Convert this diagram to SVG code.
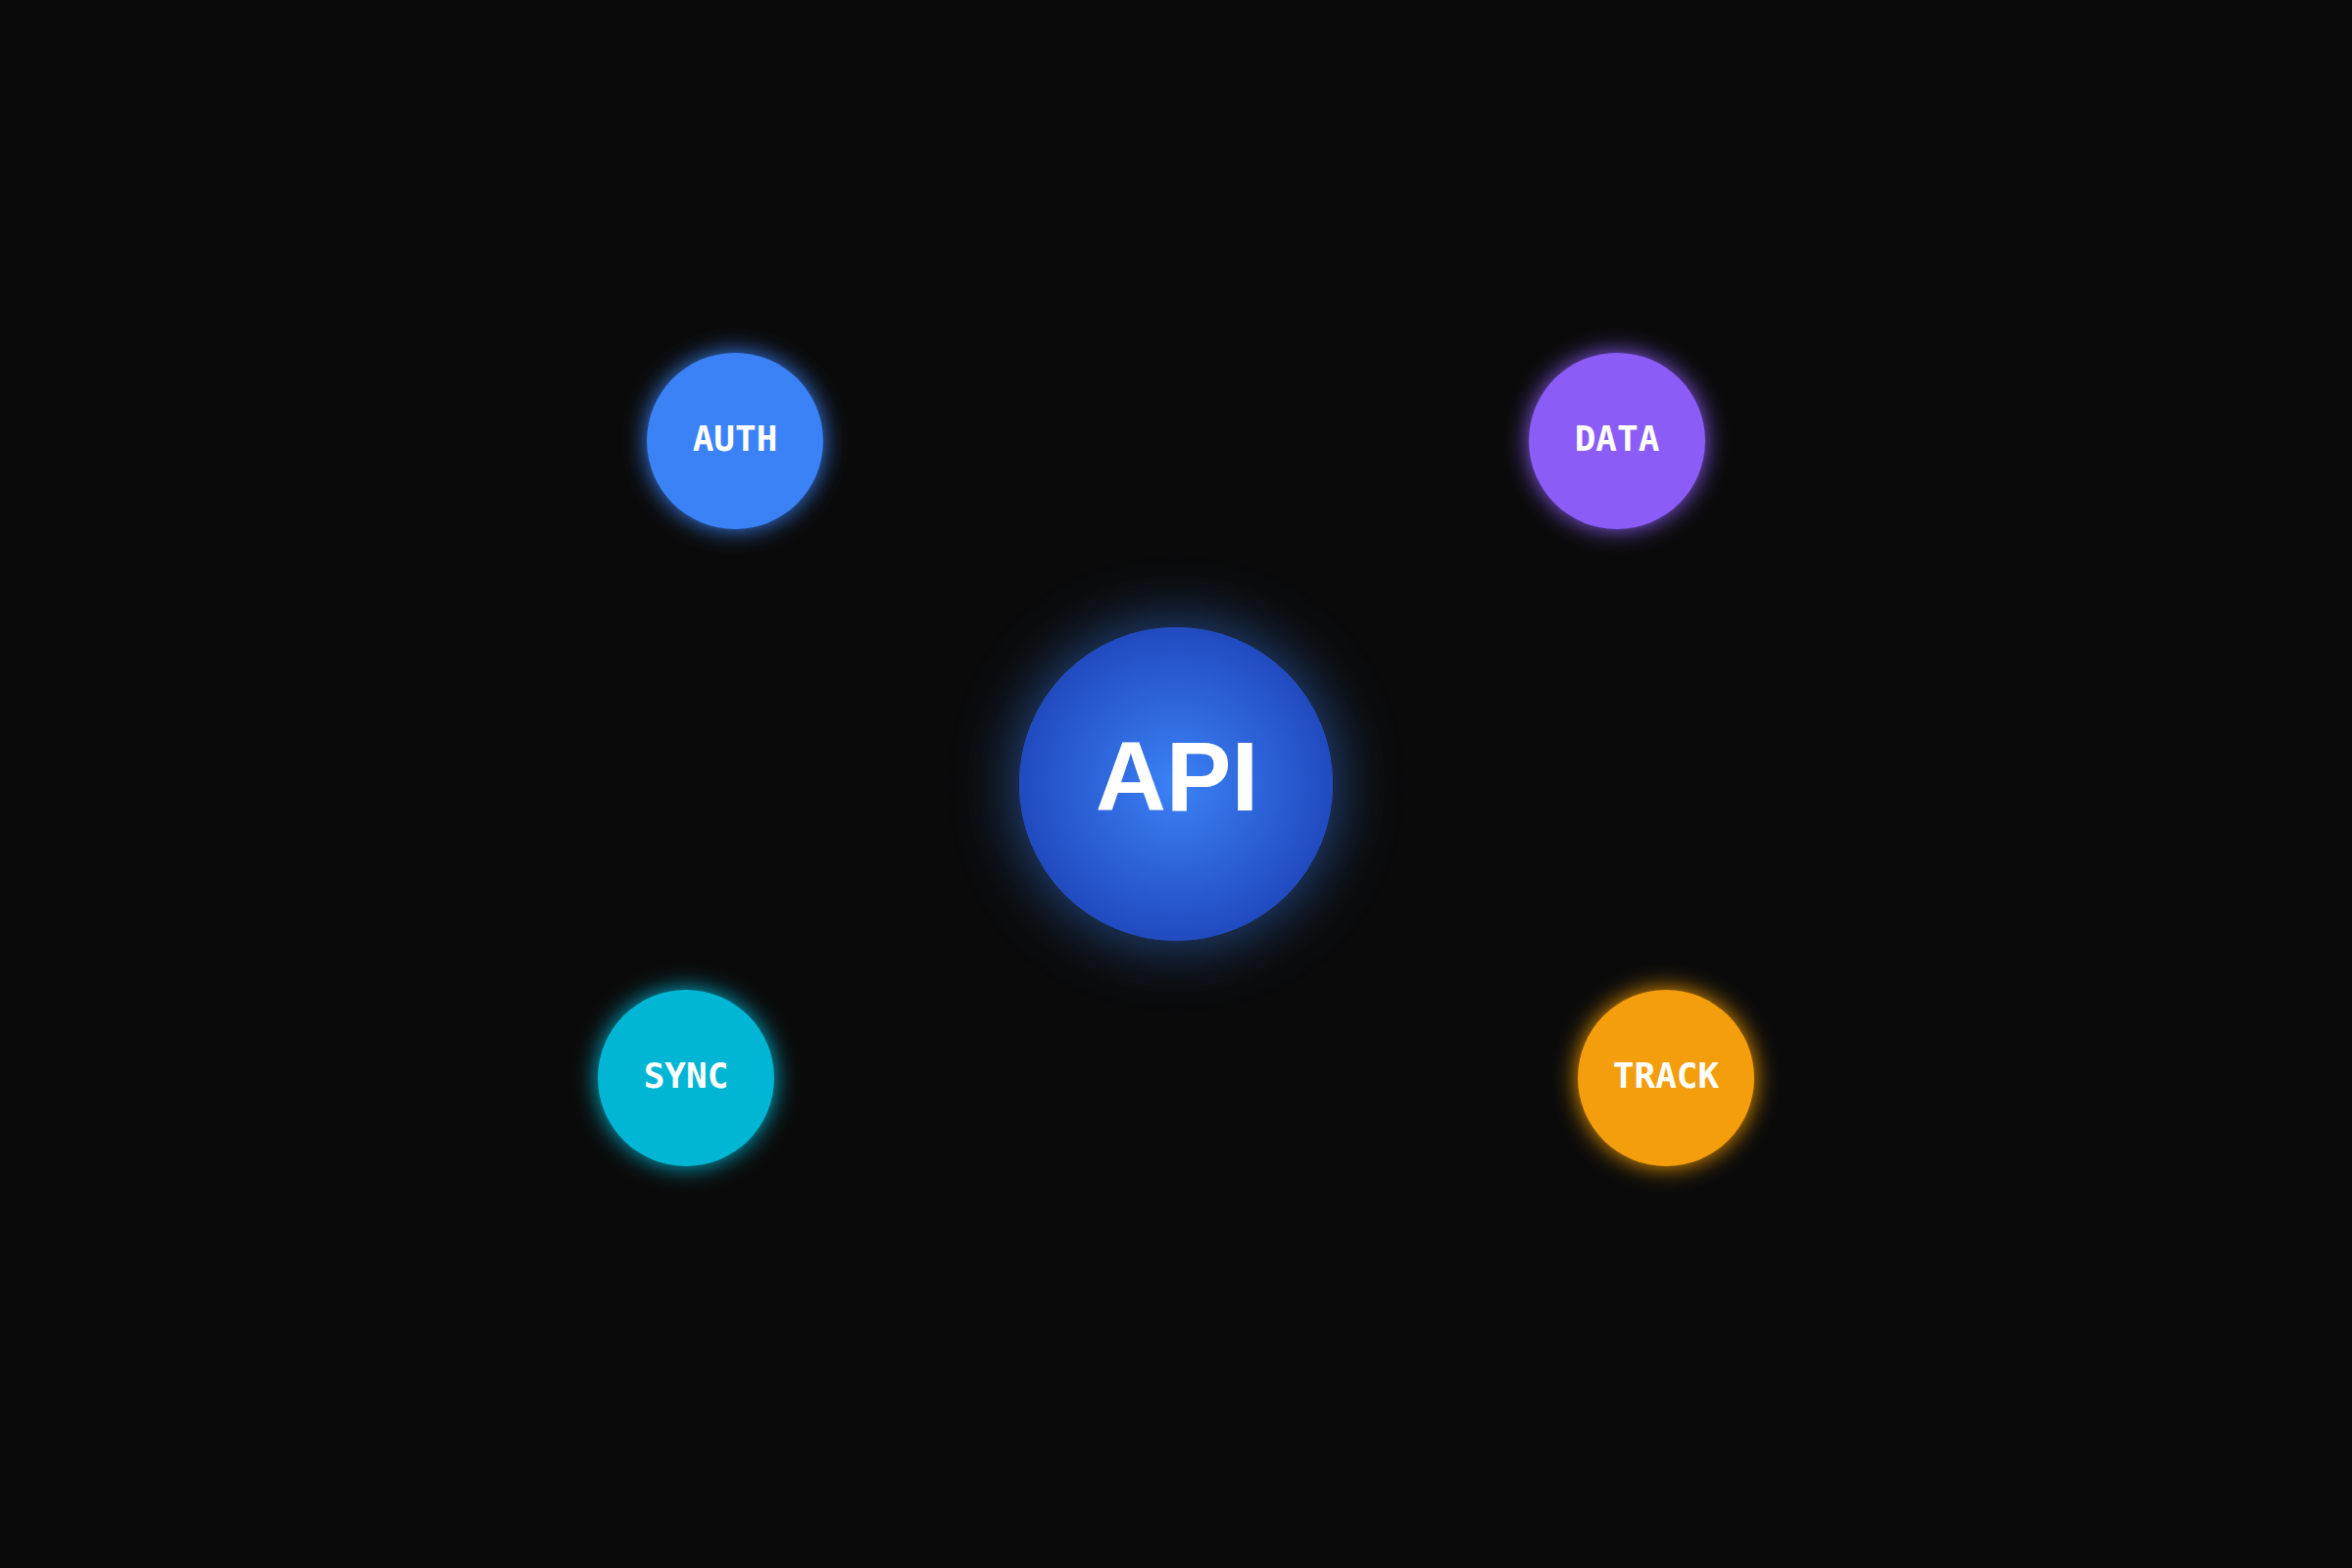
<svg xmlns="http://www.w3.org/2000/svg" width="2400" height="1600" viewBox="0 0 2400 1600">
<defs>
<radialGradient id="apiGrad" cx="50%" cy="50%" r="50%">
<stop offset="0%" stop-color="#3b82f6"/>
<stop offset="100%" stop-color="#224ac0"/>
</radialGradient>
<filter id="glowS" x="-50%" y="-50%" width="200%" height="200%">
<feGaussianBlur in="SourceGraphic" stdDeviation="12" result="b"/>
<feMerge><feMergeNode in="b"/><feMergeNode in="SourceGraphic"/></feMerge>
</filter>
<filter id="glowL" x="-70%" y="-70%" width="240%" height="240%">
<feGaussianBlur in="SourceGraphic" stdDeviation="34" result="b"/>
<feMerge><feMergeNode in="b"/><feMergeNode in="SourceGraphic"/></feMerge>
</filter>
</defs>
<style>
.lbl{font-family:"DejaVu Sans Mono","Liberation Mono",monospace;font-weight:bold;font-size:36px;fill:#ffffff;text-anchor:middle}
.api{font-family:"Liberation Sans",Arial,sans-serif;font-weight:bold;font-size:100px;fill:#ffffff;text-anchor:middle}
</style>
<rect width="2400" height="1600" fill="#0a0a0a"/>
<g id="connectors"/>
<g id="api">
<circle cx="1200" cy="800" r="160" fill="#3b82f6" opacity="0.6" filter="url(#glowL)"/>
<circle cx="1200" cy="800" r="160" fill="url(#apiGrad)"/>
<text class="api" x="1201" y="827">API</text>
</g>
<g id="auth">
<circle cx="750" cy="450" r="90" fill="#3b82f6" filter="url(#glowS)"/>
<text class="lbl" x="750" y="460">AUTH</text>
</g>
<g id="data">
<circle cx="1650" cy="450" r="90" fill="#8b5cf6" filter="url(#glowS)"/>
<text class="lbl" x="1650" y="460">DATA</text>
</g>
<g id="sync">
<circle cx="700" cy="1100" r="90" fill="#06b6d4" filter="url(#glowS)"/>
<text class="lbl" x="700" y="1110">SYNC</text>
</g>
<g id="track">
<circle cx="1700" cy="1100" r="90" fill="#f59e0b" filter="url(#glowS)"/>
<text class="lbl" x="1700" y="1110">TRACK</text>
</g>
</svg>
